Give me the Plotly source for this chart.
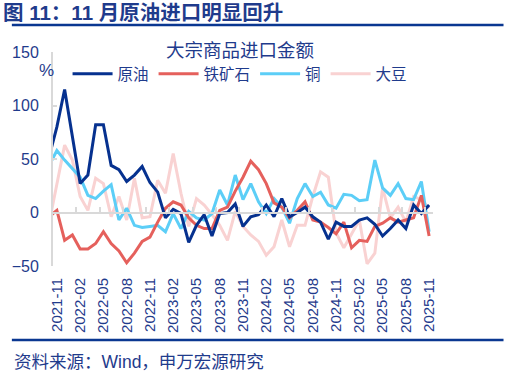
import pandas as pd
import plotly.graph_objects as go

# Months: first entry (2021-10) lies just left of the visible axis range
months = [d.strftime("%Y-%m") for d in pd.date_range("2021-10-01", "2025-11-01", freq="MS")]

crude = [52, 80, 115, 72, 27, 35, 82, 82, 44, 40, 29, 35, 43, 28, 19, -5, 3, -1, -28, -12, -2,
         -22, -1, 0, 8, -13, -4, -2, 7, -4, 13, -4, 0, 5, -4, -9, -25, -9, -13, -13, -7,
         -5, -11, -22, -15, -7, -15, 7, -1, 7]
iron_ore = [-4, 2, -26, -21, -34, -34, -29, -18, -29, -36, -47, -38, -27, -23, -9, 4, 10, 7, -5,
            -12, -15, -15, 2, 5, 20, 33, 48, 40, 27, 9, 5, -5, 2, 10, -7, -9, -14, -20, -9,
            -33, -26, -27, -13, -10, -5, -9, -7, -5, 16, -22]
copper = [44, 58, 49, 41, 33, 16, 13, 20, 26, -7, 4, -12, -14, -13, -12, -18, -1, -15, 1, -5,
          -7, -1, 21, 7, 35, 12, 27, 10, -1, 13, 5, -10, 13, 27, 15, 19, 7, 4, 17, 16, 11,
          12, 49, 23, 16, 27, 13, 12, 29, -18]
soybean = [-10, 25, 63, 49, 15, 2, 32, 27, -4, 15, -7, 32, -5, -4, 30, 18, 55, 18, -13, 13, 7,
           -2, -12, -26, 1, -13, -21, -27, -40, -32, -7, -32, -12, -12, 15, 38, 33, -19, -33,
           -20, -7, -48, -38, 23, -5, 5, -9, 15, 12, 4]

series_names = ["原油", "铁矿石", "铜", "大豆"]
y_ticks = [-50, 0, 50, 100, 150]

# derived positions
first_visible = 1  # 2021-11
idx = [i - first_visible for i in range(len(months))]
tick_pos = list(range(0, len(months) - first_visible, 3))
tick_labels = [months[p + first_visible] for p in tick_pos]
boundary_ticks = [p - 0.5 for p in tick_pos[1:]]

NAVY_TXT = "#1F3B8C"
RULE = "#0A3791"
GRID = "#D9D9D9"
colors = {"原油": "#06318F", "铁矿石": "#E5605C", "铜": "#5CCEF7", "大豆": "#F9D2D2"}
data = {"原油": crude, "铁矿石": iron_ore, "铜": copper, "大豆": soybean}

fig = go.Figure()
draw_order = ["大豆", "铜", "铁矿石", "原油"]
for name in draw_order:
    fig.add_trace(go.Scatter(
        x=idx, y=data[name], mode="lines", name=name,
        line=dict(color=colors[name], width=3),
        legendrank=series_names.index(name) + 1,
        hoverinfo="skip",
    ))
# carrier trace for the zero-line axis
fig.add_trace(go.Scatter(x=[None], y=[None], xaxis="x2", showlegend=False, hoverinfo="skip"))

L, R, T, B = 45, 74, 52, 109
W, H = 507, 375
pw, ph = W - L - R, H - T - B

def px_x(x):
    return (x - L) / pw

def px_y(y):
    return (H - B - y) / ph

fig.update_layout(
    width=W, height=H,
    margin=dict(l=L, r=R, t=T, b=B),
    plot_bgcolor="white", paper_bgcolor="white",
    font=dict(family="Liberation Sans, Arial, Noto Sans CJK SC", color=NAVY_TXT),
    title=dict(text="<b>图 11：11 月原油进口明显回升</b>", x=3 / W, xref="container",
               xanchor="left", y=1 - 13 / H, yref="container", yanchor="middle",
               font=dict(size=20.5, color=NAVY_TXT)),
    xaxis=dict(range=[-0.5, len(months) - first_visible - 0.5], tickmode="array",
               tickvals=tick_pos, ticktext=tick_labels, tickangle=-90,
               showline=False, showgrid=False, zeroline=False, ticks="",
               tickfont=dict(size=15, color=NAVY_TXT), ticklabelstandoff=8),
    xaxis2=dict(range=[-0.5, len(months) - first_visible - 0.5], overlaying="x",
                anchor="free", position=0.25, side="bottom",
                showline=True, linecolor=GRID, linewidth=2,
                ticks="inside", ticklen=5, tickcolor=GRID, tickwidth=1.5,
                tickmode="array", tickvals=boundary_ticks,
                showticklabels=False, showgrid=False, zeroline=False),
    yaxis=dict(range=[-50, 150], tickmode="array", tickvals=y_ticks,
               showline=True, linecolor=GRID, linewidth=2,
               ticks="inside", ticklen=4, tickcolor=GRID, tickwidth=1.5,
               showgrid=False, zeroline=False,
               tickfont=dict(size=16, color=NAVY_TXT), ticklabelstandoff=9),
    legend=dict(orientation="h", x=px_x(236), xanchor="center", y=px_y(33), yanchor="top",
                title=dict(text="大宗商品进口金额", side="top center",
                           font=dict(size=18.5, color=NAVY_TXT)),
                font=dict(size=15.5, color=NAVY_TXT), bgcolor="rgba(0,0,0,0)",
                itemwidth=40, traceorder="normal"),
    annotations=[
        dict(text="%", xref="paper", yref="paper", x=px_x(38), y=px_y(71),
             showarrow=False, font=dict(size=17, color=NAVY_TXT),
             xanchor="center", yanchor="middle"),
        dict(text="资料来源：Wind，申万宏源研究", xref="paper", yref="paper",
             x=px_x(3), y=px_y(362), showarrow=False, xanchor="left", yanchor="middle",
             font=dict(size=17.5, color=NAVY_TXT)),
    ],
    shapes=[
        dict(type="line", xref="paper", yref="paper", x0=px_x(3), x1=px_x(505),
             y0=px_y(25), y1=px_y(25), line=dict(color=RULE, width=2.5)),
        dict(type="line", xref="paper", yref="paper", x0=px_x(3), x1=px_x(505),
             y0=px_y(340), y1=px_y(340), line=dict(color=RULE, width=2.5)),
    ],
)

fig.write_html("out.html", config={"displayModeBar": False},
               post_script="document.body.style.margin='0px';document.body.style.overflow='hidden';")
